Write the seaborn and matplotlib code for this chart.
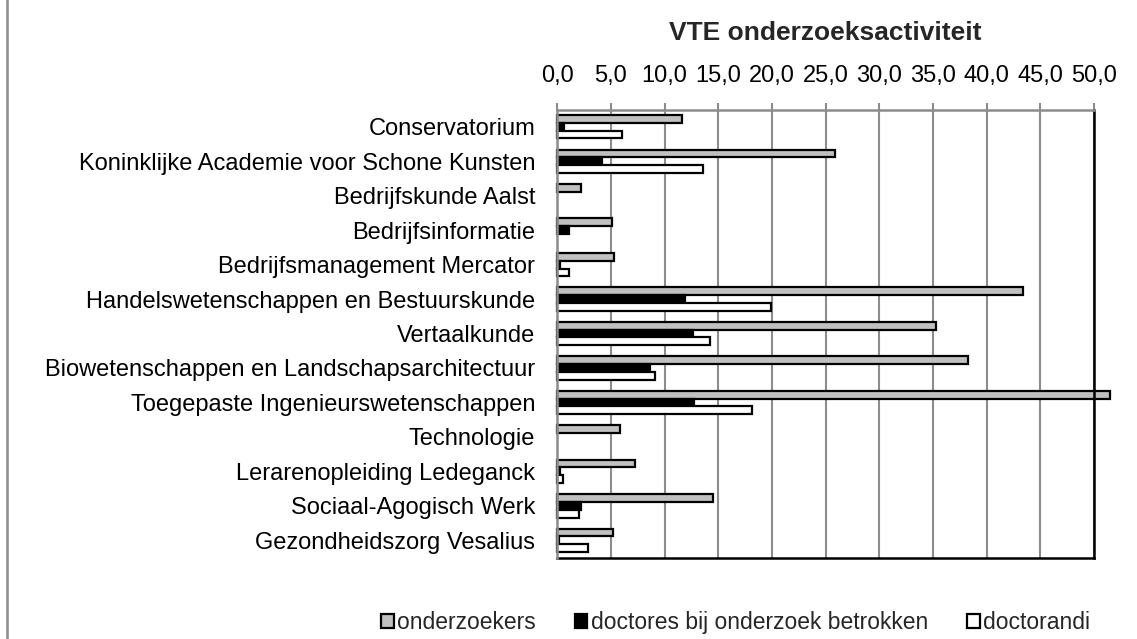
import pandas as pd
import matplotlib.pyplot as plt
from matplotlib.lines import Line2D
import numpy as np
import seaborn as sns

# --- data ---
categories = [
    "Conservatorium",
    "Koninklijke Academie voor Schone Kunsten",
    "Bedrijfskunde Aalst",
    "Bedrijfsinformatie",
    "Bedrijfsmanagement Mercator",
    "Handelswetenschappen en Bestuurskunde",
    "Vertaalkunde",
    "Biowetenschappen en Landschapsarchitectuur",
    "Toegepaste Ingenieurswetenschappen",
    "Technologie",
    "Lerarenopleiding Ledeganck",
    "Sociaal-Agogisch Werk",
    "Gezondheidszorg Vesalius",
]
onderzoekers = [11.6, 25.9, 2.2, 5.1, 5.3, 43.4, 35.3, 38.3, 51.5, 5.85, 7.2, 14.5, 5.2]
doctores = [0.65, 4.2, np.nan, 1.1, 0.25, 11.9, 12.6, 8.65, 12.75, np.nan, 0.3, 2.2, 0.2]
doctorandi = [6.05, 13.55, np.nan, np.nan, 1.1, 19.9, 14.2, 9.15, 18.1, np.nan, 0.55, 2.05, 2.85]

series_names = ["onderzoekers", "doctores bij onderzoek betrokken", "doctorandi"]
series_colors = ["#c0c0c0", "#000000", "#ffffff"]
x_ticks = [0, 5, 10, 15, 20, 25, 30, 35, 40, 45, 50]
x_ticklabels = ["0,0", "5,0", "10,0", "15,0", "20,0", "25,0", "30,0", "35,0", "40,0", "45,0", "50,0"]
title = "VTE onderzoeksactiviteit"

# --- long form table ---
df = pd.DataFrame({
    "categorie": categories * 3,
    "reeks": [series_names[0]] * 13 + [series_names[1]] * 13 + [series_names[2]] * 13,
    "waarde": onderzoekers + doctores + doctorandi,
}).dropna()

sns.set_style("white")
plt.rcParams['font.family'] = ['Liberation Sans', 'DejaVu Sans']
FS = 17

fig, ax = plt.subplots(figsize=(11.37, 6.39), dpi=100)
fig.subplots_adjust(left=0.4901, right=0.9622, top=0.8286, bottom=0.1275)

sns.barplot(
    data=df, x="waarde", y="categorie", hue="reeks",
    order=categories, hue_order=series_names,
    palette=series_colors, orient="h", width=0.68,
    edgecolor="black", linewidth=1.6, errorbar=None, ax=ax,
)
for p in ax.patches:
    p.set_clip_on(False)

# --- axes styling ---
ax.set_xlim(0, 50)
ax.set_ylim(12.5, -0.5)
ax.set_xlabel("")
ax.set_ylabel("")
ax.xaxis.tick_top()
ax.set_xticks(x_ticks)
ax.set_xticklabels(x_ticklabels, fontsize=FS)
ax.tick_params(axis="x", direction="out", length=5, width=1.5, color="#8c8c8c",
               pad=11, labelcolor="black")
ax.tick_params(axis="y", which="major", length=0, pad=16, labelsize=FS, labelcolor="black")
ax.set_yticks(np.arange(-0.5, 13, 1), minor=True)
ax.tick_params(axis="y", which="minor", direction="out", length=4.75, width=1.5, color="#8c8c8c")
ax.grid(axis="x", color="#8c8c8c", linewidth=1.5)
ax.set_axisbelow(True)

for side in ["left", "top"]:
    ax.spines[side].set_color("#8c8c8c")
    ax.spines[side].set_linewidth(1.8)
for side in ["right", "bottom"]:
    ax.spines[side].set_color("black")
    ax.spines[side].set_linewidth(1.8)
ax.spines["left"].set_zorder(5)

# --- title ---
fig.text(0.7262, 0.937, title, ha="center", va="baseline", fontsize=19, fontweight="bold")

# --- legend ---
handles, labels = ax.get_legend_handles_labels()
ax.get_legend().remove()
fig.legend(handles, labels, loc="center", bbox_to_anchor=(0.647, 0.026), ncol=3,
           frameon=False, fontsize=16.5, handlelength=0.55, handleheight=0.55,
           handletextpad=0.15, columnspacing=1.7, borderpad=0)

# --- chart area border (left edge visible) ---
fig.add_artist(Line2D([7 / 1137, 7 / 1137], [0, 1], transform=fig.transFigure,
                      color="#8c8c8c", linewidth=1.8))

plt.savefig("out.png", dpi=100)
